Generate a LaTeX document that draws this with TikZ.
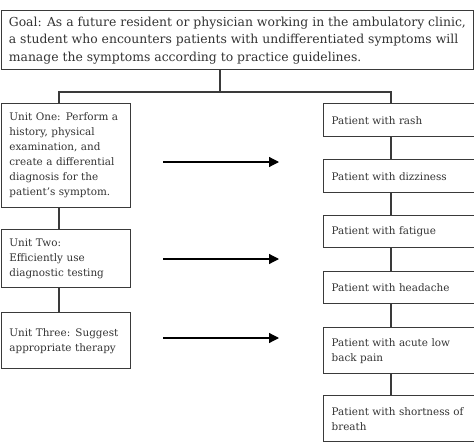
\documentclass[tikz,border=0pt]{standalone}
\usepackage{fontspec}
\setmainfont{DejaVu Serif}
\usetikzlibrary{arrows.meta}
\definecolor{ink}{HTML}{333333}
\definecolor{edge}{HTML}{3A3A3A}
\tikzset{
  x=1pt, y=-1pt,
  box/.style={draw=edge, line width=1.4pt, anchor=north west, inner xsep=8pt, inner ysep=0pt,
    align=left, text=ink, font=\fontsize{10.4}{15}\selectfont},
  goalbox/.style={box, font=\fontsize{12.4}{17.5}\selectfont},
  link/.style={draw=edge, line width=1.1pt},
  arr/.style={draw=black, line width=1.2pt, -{Triangle[length=10pt,width=10pt]}}
}
\newcommand{\bx}[6]{% name, x1, y1, x2, y2, text
  \node[box, minimum width={#4-#2}, minimum height={#5-#3}, text width={#4-#2-14}] (#1) at (#2,#3) {#6};}
\begin{document}
\begin{tikzpicture}
\useasboundingbox (0,0) rectangle (474,442);
\node[goalbox, minimum width=472, minimum height=59, inner xsep=4pt] (goal) at (0.7,10)
  {Goal: As a future resident or physician working in the ambulatory clinic,\\ a student who encounters patients with undifferentiated symptoms will\\ manage the symptoms according to practice guidelines.};
\bx{u1}{0.7}{103}{128}{207}{Unit One: Perform a\\ history, physical\\ examination, and\\ create a differential\\ diagnosis for the\\ patient's symptom.}
\bx{u2}{0.7}{229}{128}{287}{Unit Two:\\ Efficiently use\\ diagnostic testing}
\bx{u3}{0.7}{312}{128}{368}{Unit Three: Suggest\\ appropriate therapy}
\bx{p1}{323}{103}{473}{136}{Patient with rash}
\bx{p2}{323}{159}{473}{192}{Patient with dizziness}
\bx{p3}{323}{215}{473}{247}{Patient with fatigue}
\bx{p4}{323}{271}{473}{303}{Patient with headache}
\bx{p5}{323}{327}{473}{373}{Patient with acute low\\ back pain}
\bx{p6}{323}{395}{473}{441}{Patient with shortness of\\ breath}
\coordinate (j) at (220,92);
\coordinate (jl) at (59,92);
\coordinate (jr) at (391,92);
\draw[link] (goal.south -| j) -- (j);
\draw[link] (u1.north -| jl) -- (jl) -- (jr) -- (p1.north -| jr);
\draw[link] (u1.south -| jl) -- (u2.north -| jl);
\draw[link] (u2.south -| jl) -- (u3.north -| jl);
\foreach \a/\b in {p1/p2,p2/p3,p3/p4,p4/p5,p5/p6}
  \draw[link] (\a.south -| jr) -- (\b.north -| jr);
\coordinate (a1s) at (163,162); \coordinate (a1e) at (279,162);
\coordinate (a2s) at (163,259); \coordinate (a2e) at (279,259);
\coordinate (a3s) at (163,338); \coordinate (a3e) at (279,338);
\draw[arr] (a1s) -- (a1e);
\draw[arr] (a2s) -- (a2e);
\draw[arr] (a3s) -- (a3e);
\end{tikzpicture}
\end{document}
